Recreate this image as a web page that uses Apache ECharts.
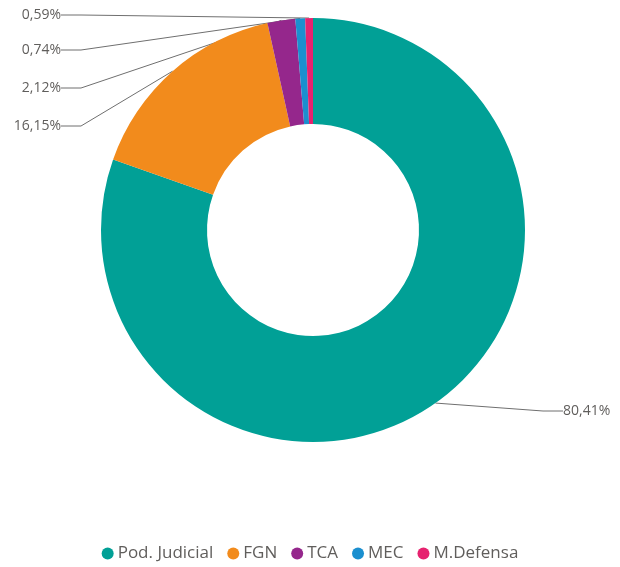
<!DOCTYPE html>
<html>
<head>
<meta charset="utf-8">
<script src="https://cdn.jsdelivr.net/npm/echarts@6/dist/echarts.min.js"></script>
<style>
  html, body { margin: 0; padding: 0; background: #fff; }
  #chart { width: 620px; height: 567px; }
</style>
</head>
<body>
<div id="chart"></div>
<script>
// datos
const categories = ['Pod. Judicial', 'FGN', 'TCA', 'MEC', 'M.Defensa']
const values = [80.41, 16.15, 2.12, 0.74, 0.59]
const colors = ['#01A096', '#F28B1C', '#95278C', '#1B8FCF', '#E6226F']

// posiciones de las etiquetas (px)
const labelPos = [
  { x: 563, y: 411, align: 'left' },
  { x: 61, y: 126, align: 'right' },
  { x: 61, y: 88, align: 'right' },
  { x: 61, y: 50, align: 'right' },
  { x: 61, y: 15, align: 'right' }
]

const chart = echarts.init(document.getElementById('chart'))

const fmt = v => v.toFixed(2).replace('.', ',') + '%'

const option = {
  animation: false,
  textStyle: { fontFamily: 'Open Sans' },
  legend: {
    bottom: 0,
    left: 'center',
    icon: 'circle',
    itemWidth: 12,
    itemHeight: 12,
    itemGap: 14,
    textStyle: { color: '#605E5C', fontSize: 17, fontFamily: 'Open Sans', padding: [0, 0, 0, -1] },
    data: categories
  },
  series: [
    {
      type: 'pie',
      center: [313, 230],
      radius: [106, 212],
      startAngle: 90,
      clockwise: true,
      avoidLabelOverlap: false,
      data: categories.map((name, i) => ({
        name,
        value: values[i],
        itemStyle: { color: colors[i] }
      })),
      label: {
        show: true,
        position: 'outside',
        color: '#605E5C',
        fontSize: 14,
        fontFamily: 'Open Sans',
        formatter: p => fmt(p.value)
      },
      labelLine: {
        show: true,
        length: 12,
        length2: 20,
        lineStyle: { color: '#6F6F6F', width: 1 }
      },
      labelLayout: p => {
        const pos = labelPos[p.dataIndex]
        return { x: pos.x, y: pos.y, align: pos.align, verticalAlign: 'middle' }
      }
    }
  ]
}

chart.setOption(option)
window.addEventListener('resize', () => chart.resize())
</script>
</body>
</html>
